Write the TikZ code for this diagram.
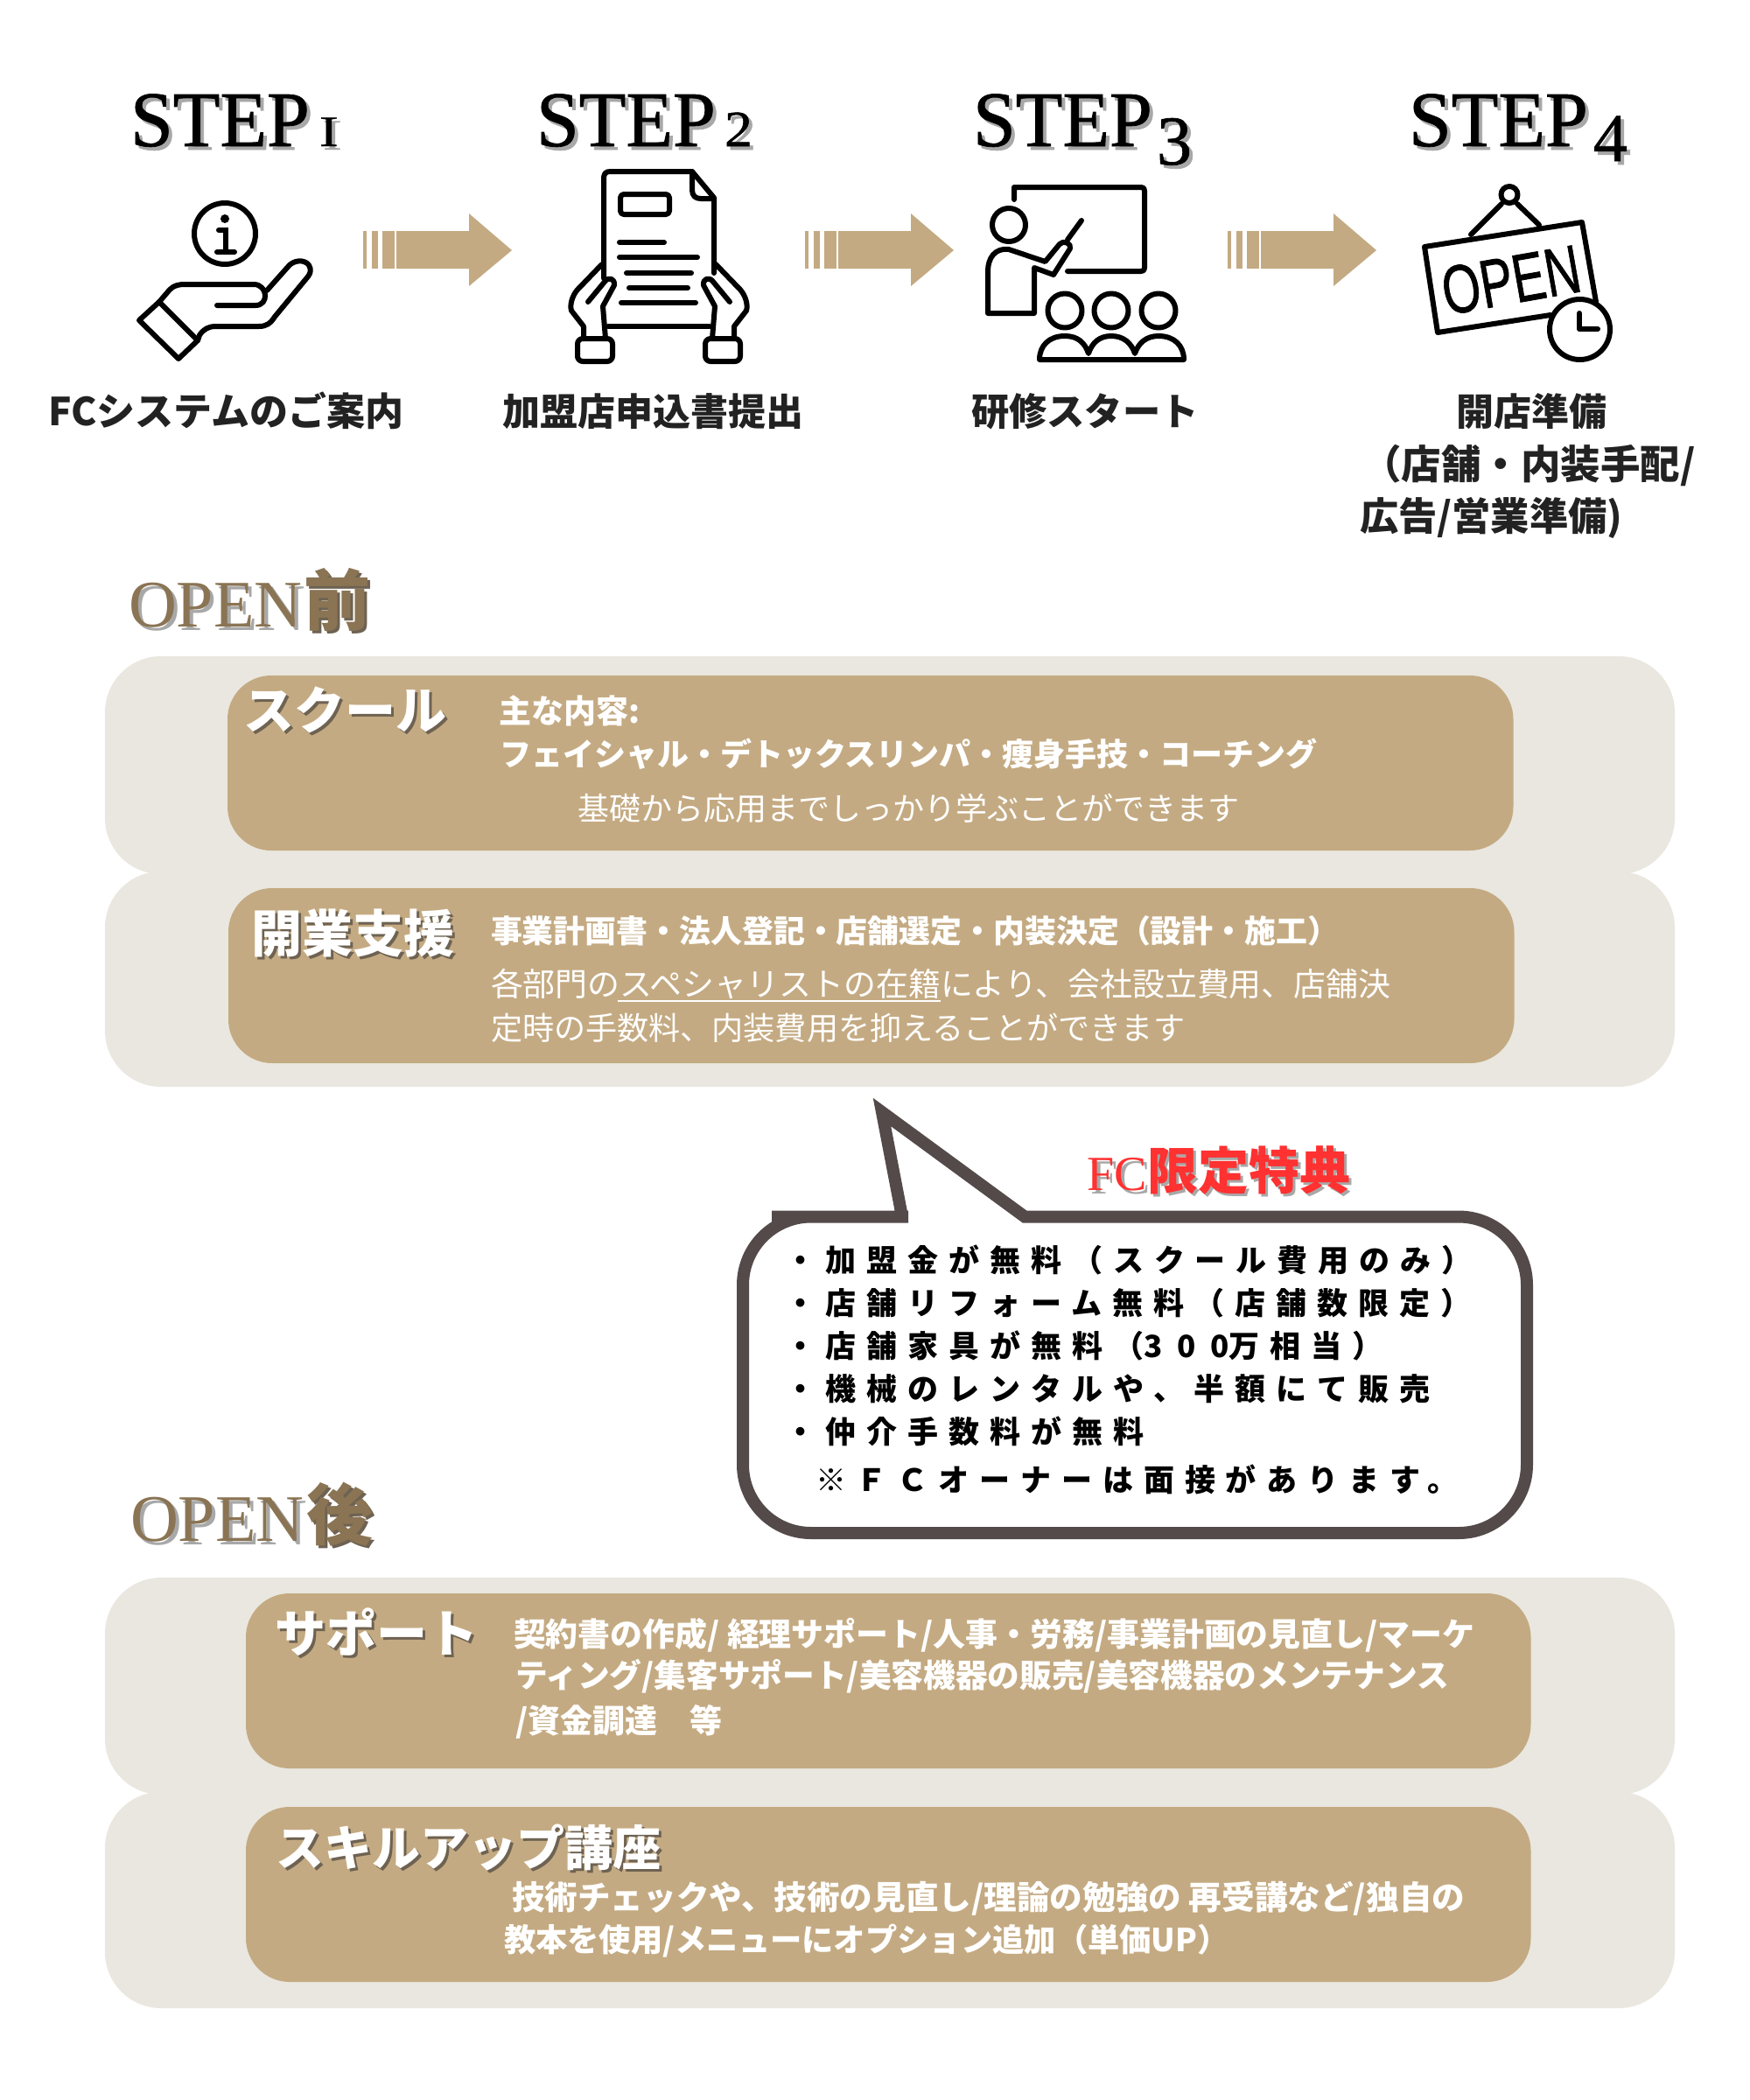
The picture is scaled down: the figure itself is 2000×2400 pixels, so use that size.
\documentclass[tikz,border=0pt]{standalone}
\usepackage{fontspec}
\usepackage{graphicx}
\setmainfont{Liberation Serif}
\newfontfamily\stepfont[FakeBold=0.9]{Liberation Serif}
\newfontfamily\jp{Noto Sans CJK JP}
\newfontfamily\jpsp[LetterSpace=34]{Noto Sans CJK JP}
\newfontfamily\jpdg[LetterSpace=48]{Noto Sans CJK JP}
\newfontfamily\opensans[FakeBold=1]{Liberation Sans}
\definecolor{tan}{HTML}{C4AA82}
\definecolor{beige}{HTML}{E9E7DF}
\definecolor{bubble}{HTML}{544A4A}
\definecolor{brownhd}{HTML}{8A7454}
\definecolor{labelk}{HTML}{222222}
\definecolor{shade}{HTML}{A8A8A8}
\definecolor{shadedk}{HTML}{6E6252}
\definecolor{fcred}{HTML}{FF3131}
\tikzset{
  txt/.style={inner sep=0pt,outer sep=0pt,anchor=base west},
  icon/.style={draw=black,line width=3pt,line cap=round,line join=round},
  outerpanel/.style={fill=beige,rounded corners=32pt},
  innerpanel/.style={fill=tan,rounded corners=25pt},
  callout/.style={draw=bubble,fill=white,line width=7pt,miter limit=20,line join=miter}
}
% name, x, y-centre, size px, colour, weight, text
\newcommand\jt[7]{%
  \pgfmathsetmacro\yb{#3+0.38*#4}\pgfmathsetmacro\fsz{#4/2}%
  \node[txt,text=#5,font=\jp #6\fontsize{\fsz}{\fsz}\selectfont] (#1) at (#2,\yb) {#7};}
% same with a shadow: name, x, yc, size, colour, shadow colour, text
\newcommand\jts[7]{%
  \pgfmathsetmacro\yb{#3+0.38*#4}\pgfmathsetmacro\fsz{#4/2}%
  \pgfmathsetmacro\xs{#2+3}\pgfmathsetmacro\ys{\yb+3}%
  \node[txt,text=#6,font=\jp\bfseries\fontsize{\fsz}{\fsz}\selectfont] (#1-s) at (\xs,\ys) {#7};
  \node[txt,text=#5,font=\jp\bfseries\fontsize{\fsz}{\fsz}\selectfont] (#1) at (#2,\yb) {#7};}
% serif with shadow: name, x, baseline, size, colour, shadow colour, text
\newcommand\st[7]{%
  \pgfmathsetmacro\fsz{#4/2}\pgfmathsetmacro\xs{#2+4}\pgfmathsetmacro\ys{#3+4}%
  \node[txt,text=#6,font=\fontsize{\fsz}{\fsz}\selectfont] (#1-s) at (\xs,\ys) {#7};
  \node[txt,text=#5,font=\fontsize{\fsz}{\fsz}\selectfont] (#1) at (#2,#3) {#7};}
\newcommand\flowarrow{%
  \fill[tan] (415,264) rectangle (419,307);
  \fill[tan] (425,264) rectangle (432,307);
  \fill[tan] (437,264) rectangle (451,307);
  \fill[tan] (453,264) -- (536,264) -- (536,244) -- (585,286) -- (536,327) -- (536,307) -- (453,307) -- cycle;}
\begin{document}
\begin{tikzpicture}[x=0.5pt,y=-0.5pt]
\useasboundingbox[fill=white] (0,0) rectangle (2000,2400);

% STEP titles
\st{s1}{149}{167}{90}{black}{shade}{\stepfont\scalebox{.975}[1]{STEP}}
\st{s1d}{365}{167}{50}{black}{shade}{\stepfont\scalebox{1.3}[1]{I}}
\st{s2}{613}{167}{90}{black}{shade}{\stepfont\scalebox{.975}[1]{STEP}}
\st{s2d}{828}{167}{58}{black}{shade}{\stepfont\scalebox{1.1}[1]{2}}
\st{s3}{1112}{167}{90}{black}{shade}{\stepfont\scalebox{.975}[1]{STEP}}
\st{s3d}{1322}{188}{80}{black}{shade}{\stepfont 3}
\st{s4}{1610}{167}{90}{black}{shade}{\stepfont\scalebox{.975}[1]{STEP}}
\st{s4d}{1821}{184}{78}{black}{shade}{\stepfont 4}

% arrows
\flowarrow
\begin{scope}[shift={(505,0)}]\flowarrow\end{scope}
\begin{scope}[shift={(988,0)}]\flowarrow\end{scope}

% icon 1: hand with info
\draw[icon] (257,267) circle[radius=35];
\fill (257,250) circle[radius=5];
\draw[line width=3pt,line cap=round] (250,263) -- (258,263) -- (258,288) (248,288) -- (268,288);
\draw[icon] (159,366) -- (182,345) -- (226,389) -- (204,410) -- cycle;
\draw[icon] (182,345) -- (194,331) .. controls (199,326) and (204,325) .. (212,325) -- (290,325) .. controls (306,325) and (308,349) .. (292,349) -- (248,349);
\draw[icon] (305,332) -- (329,305) .. controls (335,297) and (348,296) .. (353,303) .. controls (356,308) and (355,312) .. (352,316) -- (314,362) .. controls (309,370) and (304,373) .. (296,373) -- (247,373) .. controls (238,373) and (233,376) .. (228,383) -- (226,389);

% icon 2: document held by hands
\draw[icon] (690,318) -- (690,205) .. controls (690,198) and (692,196) .. (698,196) -- (791,196) -- (816,226) -- (816,312);
\draw[icon] (791,196) -- (791,217) .. controls (791,224) and (795,227) .. (801,227) -- (816,227);
\draw[icon,rounded corners=2pt] (709,222) rectangle (765,245);
\draw[icon] (708,277) -- (759,277) (708,294) -- (797,294) (716,312) -- (790,312) (719,329) -- (786,329) (710,346) -- (795,346) (695,373) -- (811,373);
\foreach \m in {0,1}{
  \begin{scope}[shift={(\m*1506,0)},xscale=1-2*\m]
  \draw[icon] (688,302) -- (660,331) .. controls (654,338) and (651,348) .. (653,355) -- (667,373) -- (667,387);
  \draw[icon] (672,345) -- (691,322) .. controls (695,316) and (703,318) .. (702,326) -- (689,350) -- (692,387);
  \draw[icon,rounded corners=3pt] (660,387) rectangle (700,413);
  \end{scope}}

% icon 3: teacher and pupils
\draw[icon] (1159,228) -- (1159,214) -- (1304,214) .. controls (1307,214) and (1308,215) .. (1308,218) -- (1308,306) .. controls (1308,309) and (1307,310) .. (1304,310) -- (1220,310);
\draw[icon] (1153,257) circle[radius=19];
\draw[icon] (1129,358) -- (1129,310) .. controls (1129,295) and (1137,283) .. (1153,285) -- (1194.5,299) -- (1211,279) .. controls (1215,274) and (1225,278) .. (1223,284) -- (1204,314) -- (1182,306) -- (1182,358) -- cycle;
\draw[icon] (1220,274) -- (1236,252);
\draw[icon] (1217,355) circle[radius=19.5] (1270,355) circle[radius=19.5] (1324,355) circle[radius=19.5];
\draw[icon] (1188,411) .. controls (1188,395) and (1199,384) .. (1217,384) .. controls (1232,384) and (1240,392) .. (1244,404) .. controls (1248,392) and (1256,384) .. (1270,384) .. controls (1284,384) and (1293,392) .. (1297,404) .. controls (1301,392) and (1310,384) .. (1324,384) .. controls (1342,384) and (1353,395) .. (1353,411) -- cycle;

% icon 4: open sign
\draw[icon] (1725,222.5) circle[radius=9.5];
\draw[icon] (1716,233) -- (1681,268) (1734,233) -- (1759,257);
\draw[icon] (1772,360) -- (1643,380) -- (1628,282) -- (1808,254) -- (1824,345);
\node[inner sep=0pt,rotate=10,font=\opensans\fontsize{39}{39}\selectfont] (opensign) at (1727,320) {\scalebox{0.72}[1]{OPEN}};
\draw[icon,fill=white] (1805.5,376.5) circle[radius=34.5];
\draw[icon] (1805,358) -- (1805,376) -- (1826,376);

% step labels
\jt{l1}{55}{470}{44}{labelk}{\bfseries}{FCシステムのご案内}
\jt{l2}{574}{470}{43}{labelk}{\bfseries}{加盟店申込書提出}
\jt{l3}{1110}{470}{43.3}{labelk}{\bfseries}{研修スタート}
\jt{l4a}{1664}{470}{43}{labelk}{\bfseries}{開店準備}
\jt{l4b}{1556}{530}{45.5}{labelk}{\bfseries}{（店舗・内装手配/}
\jt{l4c}{1554}{590}{44.3}{labelk}{\bfseries}{広告/営業準備)}

% OPEN before
\st{ob}{147}{716}{76}{brownhd}{shade}{OPEN}
\jts{obk}{347}{686}{76}{brownhd}{shadedk}{前}
\fill[outerpanel] (120,750) rectangle (1914,999);
\fill[outerpanel] (120,996) rectangle (1914,1242);
\fill[innerpanel] (260,772) rectangle (1729.5,972);
\fill[innerpanel] (261,1015) rectangle (1730.5,1215);

\jts{sc}{278}{811}{58}{white}{shadedk}{スクール}
\jt{sc1}{570}{812}{37}{white}{\bfseries}{主な内容:}
\jt{sc2}{571}{862}{36}{white}{\bfseries}{フェイシャル・デトックスリンパ・痩身手技・コーチング}
\jt{sc3}{660}{924}{36}{white}{}{基礎から応用までしっかり学ぶことができます}

\jts{kg}{287}{1066}{58}{white}{shadedk}{開業支援}
\jt{kg1}{561}{1064}{35.9}{white}{\bfseries}{事業計画書・法人登記・店舗選定・内装決定（設計・施工）}
\jt{kg2}{561}{1124.5}{36.9}{white}{}{各部門のスペシャリストの在籍により、会社設立費用、店舗決}
\jt{kg3}{561}{1175}{36.1}{white}{}{定時の手数料、内装費用を抑えることができます}
\draw[white,line width=1.2pt] (706,1144) -- (1075,1144);

% callout
\draw[callout] (1171,1390.5) [rounded corners=39pt] -- (1745,1390.5) -- (1745,1752) -- (849,1752) -- (849,1390.5) -- (960,1390.5) [sharp corners] -- (1031,1390.5) -- (1008,1271) -- cycle;
\st{fc}{1242}{1360}{56}{fcred}{shade}{FC}
\jts{fck}{1311}{1337}{58}{fcred}{shade}{限定特典}
\newcommand\cl[4]{\pgfmathsetmacro\yb{#3+0.38*35}\node[txt,text=black,font=\jpsp\bfseries\fontsize{17.5}{17.5}\selectfont] (#1) at (#2,\yb) {#4};}
\cl{c1}{897}{1440}{・加盟金が無料（スクール費用のみ）}
\cl{c2}{897}{1489}{・店舗リフォーム無料（店舗数限定）}
\cl{c3}{897}{1538}{・店舗家具が無料（{\jpdg\bfseries 300}万相当）}
\cl{c4}{897}{1587}{・機械のレンタルや、半額にて販売}
\cl{c5}{897}{1636}{・仲介手数料が無料}
\cl{c6}{932}{1691}{※ＦＣオーナーは面接があります。}

% OPEN after
\st{oa}{149}{1761}{76}{brownhd}{shade}{OPEN}
\jts{oak}{350}{1731}{76}{brownhd}{shadedk}{後}
\fill[outerpanel] (120,1803) rectangle (1914,2051);
\fill[outerpanel] (120,2048) rectangle (1914,2295);
\fill[innerpanel] (281,1821) rectangle (1749.5,2021);
\fill[innerpanel] (281,2065) rectangle (1749.5,2265);

\jts{sp}{314}{1866}{58}{white}{shadedk}{サポート}
\jt{sp1}{587}{1867}{36.9}{white}{\bfseries}{契約書の作成/ 経理サポート/人事・労務/事業計画の見直し/マーケ}
\jt{sp2}{589}{1915}{36.7}{white}{\bfseries}{ティング/集客サポート/美容機器の販売/美容機器のメンテナンス}
\jt{sp3}{589}{1966}{37}{white}{\bfseries}{/資金調達　等}
\jts{sk}{315}{2112}{55}{white}{shadedk}{スキルアップ講座}
\jt{sk1}{585}{2168}{37.6}{white}{\bfseries}{技術チェックや、技術の見直し/理論の勉強の 再受講など/独自の}
\jt{sk2}{576}{2217}{36.3}{white}{\bfseries}{教本を使用/メニューにオプション追加（単価UP）}
\end{tikzpicture}
\end{document}
